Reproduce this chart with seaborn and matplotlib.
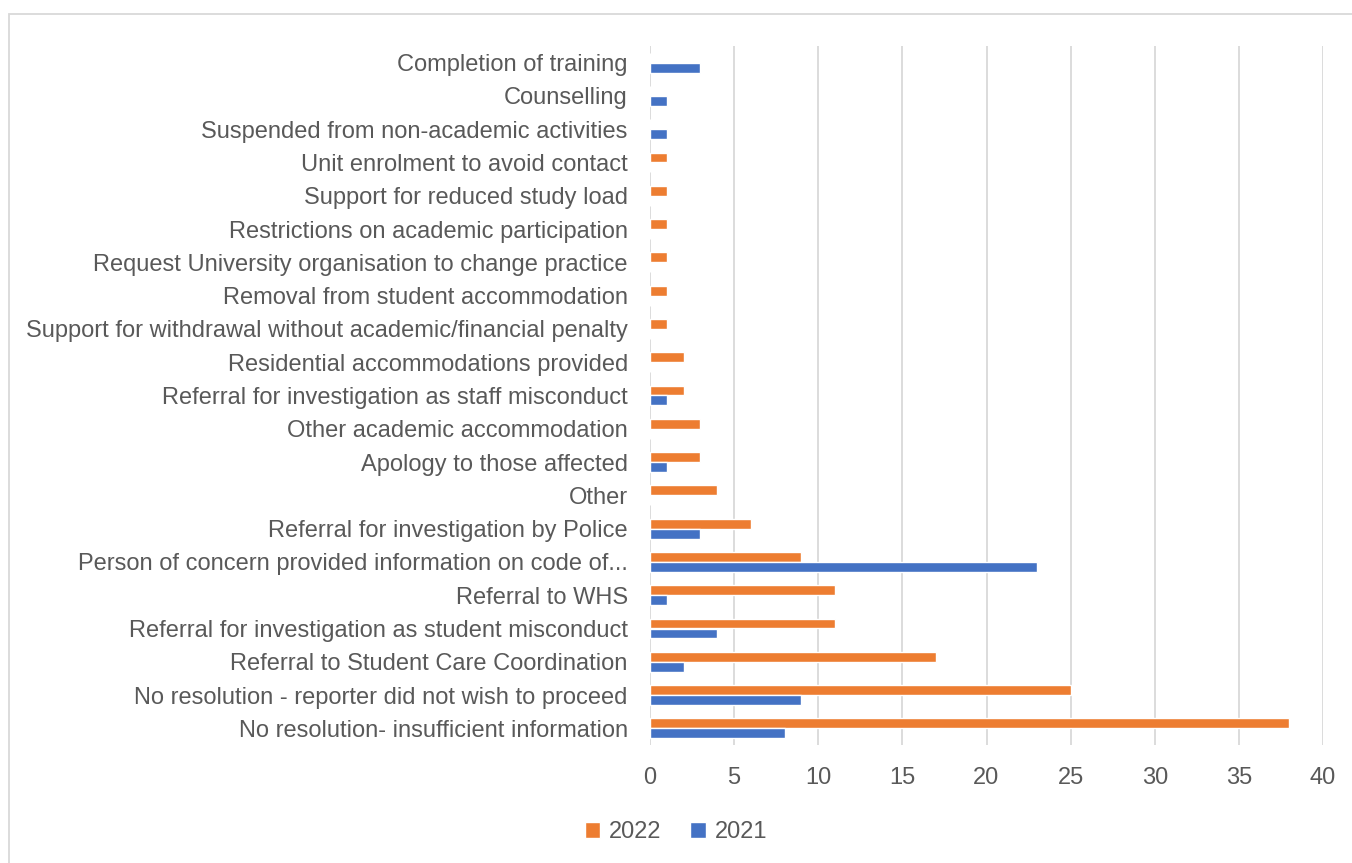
import pandas as pd
import matplotlib.pyplot as plt
import seaborn as sns
from matplotlib.patches import Rectangle

# categories, top to bottom as shown
outcomes = [
    "Completion of training",
    "Counselling",
    "Suspended from non-academic activities",
    "Unit enrolment to avoid contact",
    "Support for reduced study load",
    "Restrictions on academic participation",
    "Request University organisation to change practice",
    "Removal from student accommodation",
    "Support for withdrawal without academic/financial penalty",
    "Residential accommodations provided",
    "Referral for investigation as staff misconduct",
    "Other academic accommodation",
    "Apology to those affected",
    "Other",
    "Referral for investigation by Police",
    "Person of concern provided information on code of...",
    "Referral to WHS",
    "Referral for investigation as student misconduct",
    "Referral to Student Care Coordination",
    "No resolution - reporter did not wish to proceed",
    "No resolution- insufficient information",
]
values_2022 = [0, 0, 0, 1, 1, 1, 1, 1, 1, 2, 2, 3, 3, 4, 6, 9, 11, 11, 17, 25, 38]
values_2021 = [3, 1, 1, 0, 0, 0, 0, 0, 0, 0, 1, 0, 1, 0, 3, 23, 1, 4, 2, 9, 8]
years = ["2022", "2021"]

df = pd.concat([
    pd.DataFrame({"outcome": outcomes, "count": values_2022, "year": "2022"}),
    pd.DataFrame({"outcome": outcomes, "count": values_2021, "year": "2021"}),
])

sns.set_style("white")
plt.rcParams["font.family"] = ["Liberation Sans", "DejaVu Sans"]
text_col = "#595959"
fs = 17

fig = plt.figure(figsize=(13.52, 8.63), dpi=100)
ax = fig.add_axes([650 / 1352, 1 - 745 / 863, 673 / 1352, 699 / 863])

sns.barplot(data=df, x="count", y="outcome", hue="year", hue_order=years,
            order=outcomes, palette=["#ED7D31", "#4472C4"], saturation=1,
            width=0.6, orient="h", ax=ax, legend=True)

ax.set_xlim(0, 40)
ax.set_xticks(range(0, 41, 5))
ax.set_xlabel("")
ax.set_ylabel("")
ax.grid(axis="x", color="#D9D9D9", linewidth=1.3)
ax.set_axisbelow(True)
for s in ax.spines.values():
    s.set_visible(False)
ax.tick_params(axis="y", length=0, pad=16, labelsize=fs, labelcolor=text_col)
ax.tick_params(axis="x", length=0, pad=16, labelsize=fs, labelcolor=text_col)

leg = ax.legend(loc="center", bbox_to_anchor=(676 / 1352, 1 - 832 / 863),
                bbox_transform=fig.transFigure, ncol=2, frameon=False,
                fontsize=fs, handlelength=0.65, handleheight=0.65,
                handletextpad=0.4, columnspacing=1.2)
for t in leg.get_texts():
    t.set_color(text_col)

# light chart border
fig.patches.append(Rectangle((9 / 1352, -0.05), 1.1, 1 - 14 / 863 + 0.05,
                             transform=fig.transFigure, fill=False,
                             edgecolor="#D9D9D9", linewidth=1.3))

fig.savefig("out.png", dpi=100)
